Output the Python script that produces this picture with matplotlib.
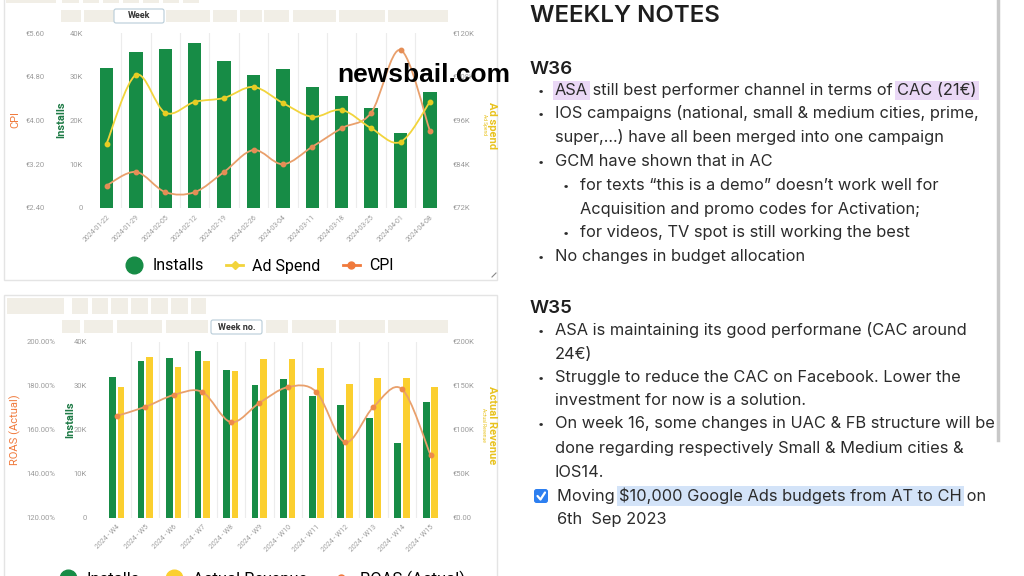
import matplotlib
matplotlib.use('Agg')
import matplotlib.pyplot as plt
from matplotlib.path import Path
from matplotlib.patches import PathPatch, Rectangle, FancyBboxPatch
from matplotlib.lines import Line2D
import numpy as np

# ---- data ----
weeks_top = ['2024-01-22', '2024-01-29', '2024-02-05', '2024-02-12', '2024-02-19', '2024-02-26',
             '2024-03-04', '2024-03-11', '2024-03-18', '2024-03-25', '2024-04-01', '2024-04-08']
installs_top = [32.0, 35.6, 36.3, 37.7, 33.6, 30.4, 31.8, 27.7, 25.6, 22.9, 17.1, 26.5]  # thousands
ad_spend = [89.6, 108.5, 98.1, 101.1, 102.2, 105.2, 100.8, 97.0, 98.9, 93.9, 90.1, 101.1]  # K EUR
cpi = [2.81, 3.06, 2.69, 2.69, 3.06, 3.46, 3.20, 3.52, 3.86, 4.14, 5.29, 3.81]

weeks_bot = ['2024 - W4', '2024 - W5', '2024 - W6', '2024 - W7', '2024 - W8', '2024 - W9',
             '2024 - W10', '2024 - W11', '2024 - W12', '2024 - W13', '2024 - W14', '2024 - W15']
installs_bot = [32.0, 35.7, 36.4, 38.0, 33.6, 30.2, 31.6, 27.7, 25.7, 22.7, 17.0, 26.4]
revenue = [149, 183, 172, 178, 167, 181, 181, 170, 152, 159, 159, 149]  # K EUR
roas = [166.4, 170.5, 175.9, 177.3, 163.6, 172.3, 179.5, 177.3, 154.5, 170.5, 178.6, 148.6]

GREEN = '#178c46'
YELLOW_LINE = '#f2d43c'
YELLOW_BAR = '#fbcf2f'
ORANGE = '#e9a06c'
ORANGE_TXT = '#f07a3c'
TICK = '#9c9c9c'
W, H = 1024, 576


def smooth_path(xs, ys):
    '''Catmull-Rom style curve through the points, as bezier segments'''
    n = len(xs)
    verts = [(xs[0], ys[0])]
    codes = [Path.MOVETO]
    for i in range(n - 1):
        i0, i3 = max(i - 1, 0), min(i + 2, n - 1)
        c1 = (xs[i] + (xs[i + 1] - xs[i0]) / 6, ys[i] + (ys[i + 1] - ys[i0]) / 6)
        c2 = (xs[i + 1] - (xs[i3] - xs[i]) / 6, ys[i + 1] - (ys[i3] - ys[i]) / 6)
        verts += [c1, c2, (xs[i + 1], ys[i + 1])]
        codes += [Path.CURVE4] * 3
    return Path(verts, codes)


def px_axes(x0, x1, ytop, ybot):
    return [x0 / W, 1 - ybot / H, (x1 - x0) / W, (ybot - ytop) / H]


fig = plt.figure(figsize=(W / 100, H / 100), dpi=100)
plt.rcParams['font.family'] = ['Roboto', 'DejaVu Sans']

# background axes in pixel coordinates for the dashboard furniture
bg = fig.add_axes([0, 0, 1, 1])
bg.set_xlim(0, W)
bg.set_ylim(H, 0)
bg.set_axis_off()

for y0, y1 in [(-6, 280), (295, 590)]:
    bg.add_patch(Rectangle((4, y0), 493, y1 - y0, facecolor='white', edgecolor='#e4e4e4', lw=1))
bg.plot([492, 496], [277, 273], color='#888', lw=0.8)

BEIGE = '#f1eee6'
for x0, x1 in [(6, 56), (62, 79), (83, 99), (103, 119), (123, 139), (143, 159), (163, 179), (183, 199)]:
    bg.add_patch(Rectangle((x0, -4), x1 - x0, 7, facecolor=BEIGE, edgecolor='none'))
for x0, x1 in [(61, 81), (84, 115), (166, 210), (213, 237), (240, 262), (264, 289), (293, 336), (339, 385), (388, 448)]:
    bg.add_patch(Rectangle((x0, 10), x1 - x0, 12, facecolor=BEIGE, edgecolor='none'))
for x0, x1 in [(7, 64), (72, 88), (92, 108), (111, 128), (131, 148), (151, 168), (171, 188), (191, 206)]:
    bg.add_patch(Rectangle((x0, 298), x1 - x0, 16, facecolor=BEIGE, edgecolor='none'))
for x0, x1 in [(62, 80), (84, 113), (117, 162), (166, 208), (266, 288), (292, 336), (339, 385), (388, 448)]:
    bg.add_patch(Rectangle((x0, 320), x1 - x0, 13, facecolor=BEIGE, edgecolor='none'))
for (x0, x1, yc, lab) in [(114, 164, 16, 'Week'), (211, 262, 327, 'Week no.')]:
    bg.add_patch(FancyBboxPatch((x0, yc - 7), x1 - x0, 14, boxstyle='round,pad=0,rounding_size=2',
                                facecolor='white', edgecolor='#b8ccd8', lw=0.8))
    bg.text((x0 + x1) / 2, yc, lab, ha='center', va='center', fontsize=6.5, fontweight='bold', color='#333')

# axis titles
bg.text(15, 120, 'CPI', rotation=90, ha='center', va='center', color=ORANGE_TXT, fontsize=8)
bg.text(61, 120, 'Installs', rotation=90, ha='center', va='center', color='#1d7a45', fontsize=8, fontweight='bold')
bg.text(492, 125, 'Ad spend', rotation=270, ha='center', va='center', color='#e8c21e', fontsize=8, fontweight='bold')
bg.text(484, 125, 'Ad Spend', rotation=270, ha='center', va='center', color='#e8c21e', fontsize=3.5)
bg.text(15, 430, 'ROAS (Actual)', rotation=90, ha='center', va='center', color=ORANGE_TXT, fontsize=8)
bg.text(70, 420, 'Installs', rotation=90, ha='center', va='center', color='#1d7a45', fontsize=8, fontweight='bold')
bg.text(492, 425, 'Actual Revenue', rotation=270, ha='center', va='center', color='#e8c21e', fontsize=8, fontweight='bold')
bg.text(484, 425, 'Actual Revenue', rotation=270, ha='center', va='center', color='#e8c21e', fontsize=3.5)

# ---- top chart ----
x = np.arange(len(weeks_top))
ax = fig.add_axes(px_axes(91.8, 444.6, 33, 208))
ax.bar(x, installs_top, width=0.46, color=GREEN, zorder=2)
ax.set_xlim(-0.5, len(x) - 0.5)
ax.set_ylim(0, 40)
ax.set_yticks([0, 10, 20, 30, 40], ['0', '10K', '20K', '30K', '40K'])
ax.set_xticks(x, weeks_top, rotation=45, ha='right', rotation_mode='anchor')
ax.set_xticks(x[:-1] + 0.5, minor=True)
ax.grid(axis='x', which='minor', color='#ececec', lw=0.8)
ax.tick_params(axis='y', length=0, pad=6.5, labelsize=5.5, labelcolor=TICK)
ax.tick_params(axis='x', which='both', length=0, pad=4, labelsize=5, labelcolor=TICK)
for s in ax.spines.values():
    s.set_visible(False)

ax_cpi = ax.twinx()
ax_cpi.yaxis.tick_left()
ax_cpi.set_ylim(2.4, 5.6)
ax_cpi.set_yticks([2.4, 3.2, 4.0, 4.8, 5.6], ['€2.40', '€3.20', '€4.00', '€4.80', '€5.60'])
ax_cpi.tick_params(axis='y', length=0, pad=34, labelsize=5.5, labelcolor=TICK)
ax_cpi.add_patch(PathPatch(smooth_path(x, cpi), fill=False, edgecolor=ORANGE, lw=1.3))
ax_cpi.plot(x, cpi, 'o', color='#e58d55', ms=3.2)

ax_sp = ax.twinx()
ax_sp.set_ylim(72, 120)
ax_sp.set_yticks([72, 84, 96, 108, 120], ['€72K', '€84K', '€96K', '€108K', '€120K'])
ax_sp.tick_params(axis='y', length=0, pad=6, labelsize=5.5, labelcolor=TICK)
ax_sp.add_patch(PathPatch(smooth_path(x, ad_spend), fill=False, edgecolor=YELLOW_LINE, lw=1.3))
ax_sp.plot(x, ad_spend, 'o', color='#e6cd22', ms=3.2)
for a in (ax_cpi, ax_sp):
    for s in a.spines.values():
        s.set_visible(False)

handles = [Line2D([], [], marker='o', ls='none', color=GREEN, ms=12),
           Line2D([], [], marker='D', color=YELLOW_LINE, ms=4, lw=2),
           Line2D([], [], marker='o', color='#f07a3c', ms=5, lw=2)]
fig.legend(handles, ['Installs', 'Ad Spend', 'CPI'], loc='center', bbox_to_anchor=(260 / W, 1 - 266 / H),
           ncol=3, frameon=False, fontsize=11.5, handlelength=1.05, columnspacing=1.4, handletextpad=0.6)

# ---- bottom chart ----
xb = np.arange(len(weeks_bot))
axb = fig.add_axes(px_axes(102.4, 444.8, 342, 518))
axb.bar(xb - 0.148, installs_bot, width=0.235, color=GREEN, zorder=2)
axb.set_xlim(-0.5, len(xb) - 0.5)
axb.set_ylim(0, 40)
axb.set_yticks([0, 10, 20, 30, 40], ['0', '10K', '20K', '30K', '40K'])
axb.set_xticks(xb, weeks_bot, rotation=45, ha='right', rotation_mode='anchor')
axb.set_xticks(xb[:-1] + 0.5, minor=True)
axb.grid(axis='x', which='minor', color='#ececec', lw=0.8)
axb.tick_params(axis='y', length=0, pad=11, labelsize=5.5, labelcolor=TICK)
axb.tick_params(axis='x', which='both', length=0, pad=4, labelsize=5, labelcolor=TICK)

axb_rev = axb.twinx()
axb_rev.set_ylim(0, 200)
axb_rev.bar(xb + 0.148, revenue, width=0.235, color=YELLOW_BAR, zorder=2)
axb_rev.set_yticks([0, 50, 100, 150, 200], ['€0.00', '€50K', '€100K', '€150K', '€200K'])
axb_rev.tick_params(axis='y', length=0, pad=6, labelsize=5.5, labelcolor=TICK)

axb_roas = axb.twinx()
axb_roas.yaxis.tick_left()
axb_roas.set_ylim(120, 200)
axb_roas.set_yticks([120, 140, 160, 180, 200], ['120.00%', '140.00%', '160.00%', '180.00%', '200.00%'])
axb_roas.tick_params(axis='y', length=0, pad=34, labelsize=5.5, labelcolor=TICK)
axb_roas.add_patch(PathPatch(smooth_path(xb, roas), fill=False, edgecolor=ORANGE, lw=1.3))
axb_roas.plot(xb, roas, 'o', color='#ee8a4a', ms=3.2)
for a in (axb, axb_rev, axb_roas):
    for s in a.spines.values():
        s.set_visible(False)

handles_b = [Line2D([], [], marker='o', ls='none', color=GREEN, ms=12),
             Line2D([], [], marker='o', ls='none', color=YELLOW_BAR, ms=12),
             Line2D([], [], marker='o', color='#f07a3c', ms=5, lw=2)]
fig.legend(handles_b, ['Installs', 'Actual Revenue', 'ROAS (Actual)'], loc='center',
           bbox_to_anchor=(262 / W, 1 - 579 / H), ncol=3, frameon=False, fontsize=12,
           handlelength=1.05, columnspacing=1.5, handletextpad=0.6)

# ---- weekly notes ----
NOTE = '#2b2b2b'
NF = ['Inter', 'DejaVu Sans']
bg.plot([998, 998], [0, 440], color='#c8c8c8', lw=2.5)


def note_line(x0, y0, pieces, size=11.8):
    '''pieces: list of (text, highlight colour or None), drawn one after another'''
    prev = None
    for txt, hl in pieces:
        box = dict(boxstyle='square,pad=0.12', facecolor=hl, edgecolor='none') if hl else None
        if prev is None:
            prev = bg.text(x0, y0, txt, fontsize=size, color=NOTE, family=NF, va='baseline',
                           ha='left', bbox=box)
        else:
            prev = bg.annotate(txt, xy=(1, 0), xycoords=prev, va='bottom', ha='left',
                               fontsize=size, color=NOTE, family=NF, bbox=box)


bg.text(530, 22, 'WEEKLY NOTES', fontsize=17.3, fontweight='semibold', color='#1e1e1e', family=NF, va='baseline')
bg.text(530, 74, 'W36', fontsize=13.5, fontweight='semibold', color='#1e1e1e', family=NF, va='baseline')
bg.text(530, 313, 'W35', fontsize=13.5, fontweight='semibold', color='#1e1e1e', family=NF, va='baseline')

PURPLE = '#ead8f6'
BLUE = '#d3e3f8'
lines = [
    (541, 555, 95, [('ASA', PURPLE), (' still best performer channel in terms of ', None), ('CAC (21€)', PURPLE)]),
    (541, 555, 118, [('IOS campaigns (national, small & medium cities, prime,', None)]),
    (None, 555, 142, [('super,...) have all been merged into one campaign', None)]),
    (541, 555, 166, [('GCM have shown that in AC', None)]),
    (566, 580, 190, [('for texts “this is a demo” doesn’t work well for', None)]),
    (None, 580, 214, [('Acquisition and promo codes for Activation;', None)]),
    (566, 580, 237, [('for videos, TV spot is still working the best', None)]),
    (541, 555, 261, [('No changes in budget allocation', None)]),
    (541, 555, 335, [('ASA is maintaining its good performane (CAC around', None)]),
    (None, 555, 359, [('24€)', None)]),
    (541, 555, 382, [('Struggle to reduce the CAC on Facebook. Lower the', None)]),
    (None, 555, 405, [('investment for now is a solution.', None)]),
    (541, 555, 428, [('On week 16, some changes in UAC & FB structure will be', None)]),
    (None, 555, 453, [('done regarding respectively Small & Medium cities &', None)]),
    (None, 555, 477, [('IOS14.', None)]),
    (None, 557, 501, [('Moving ', None), ('$10,000 Google Ads budgets from AT to CH', BLUE), (' on', None)]),
    (None, 557, 524, [('6th  Sep 2023', None)]),
]
for bx, tx, ty, pieces in lines:
    if bx is not None:
        bg.text(bx, ty - 4, '•', fontsize=8, color=NOTE, ha='center', va='center', family=NF)
    note_line(tx, ty, pieces)

bg.add_patch(FancyBboxPatch((534, 489), 14, 14, boxstyle='round,pad=0,rounding_size=2.5',
                            facecolor='#2d7ff0', edgecolor='none'))
bg.plot([537.5, 540.5, 545], [496, 499.5, 492.5], color='white', lw=1.6, solid_capstyle='round')

# watermark on top of everything
fig.text(424 / W, 1 - 75 / H, 'newsbail.com', fontsize=19, fontweight='bold',
         family=['Liberation Sans', 'DejaVu Sans'], color='black', ha='center', va='center', zorder=10)

fig.savefig('out.png', dpi=100)
